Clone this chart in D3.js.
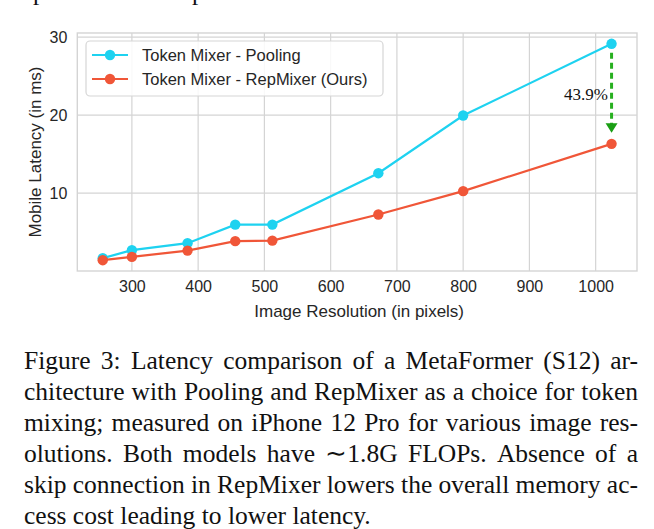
<!DOCTYPE html>
<html>
<head>
<meta charset="utf-8">
<script src="https://cdn.jsdelivr.net/npm/d3@7"></script>
<style>
  html, body { margin: 0; padding: 0; background: #fff; }
  svg { display: block; }
</style>
</head>
<body>
<svg id="chart" width="654" height="529"></svg>
<script>
// ---- data ----
const resolutions = [256, 300, 384, 456, 512, 672, 800, 1024];
const poolingLatency = [1.67, 2.69, 3.59, 5.97, 5.97, 12.56, 19.95, 29.14];
const repmixerLatency = [1.41, 1.83, 2.64, 3.85, 3.92, 7.26, 10.26, 16.32];
const seriesNames = ["Token Mixer - Pooling", "Token Mixer - RepMixer (Ours)"];
const xTicks = [300, 400, 500, 600, 700, 800, 900, 1000];
const yTicks = [10, 20, 30];
const annotationText = "43.9%";
const xLabel = "Image Resolution (in pixels)";
const yLabel = "Mobile Latency (in ms)";
const captionLines = [
  "Figure 3: Latency comparison of a MetaFormer (S12) ar-",
  "chitecture with Pooling and RepMixer as a choice for token",
  "mixing; measured on iPhone 12 Pro for various image res-",
  "olutions. Both models have \u223C1.8G FLOPs. Absence of a",
  "skip connection in RepMixer lowers the overall memory ac-",
  "cess cost leading to lower latency."
];

const colors = ["#1ed2f0", "#f05638"];
const textColor = "#262626";
const gridColor = "#d4d4d4";
const sans = "'Liberation Sans', Arial, sans-serif";
const serif = "'Liberation Serif', 'Times New Roman', serif";

const svg = d3.select("#chart");
svg.append("rect").attr("width", 654).attr("height", 529).attr("fill", "#fff");

// partial glyphs of the preceding line (cut off at top in the reference too)
svg.append("text").attr("x", 33).attr("y", 0).attr("font-family", serif)
  .attr("font-size", 25).attr("fill", "#111").text("p");
svg.append("text").attr("x", 192).attr("y", 0).attr("font-family", serif)
  .attr("font-size", 25).attr("fill", "#111").text("p");

const plot = { left: 77.3, right: 637, top: 33, bottom: 271 };
const xMin = d3.min(resolutions), xMax = d3.max(resolutions);
const xm = (xMax - xMin) * 0.05;
const allY = poolingLatency.concat(repmixerLatency);
const yMin = d3.min(allY), yMax = d3.max(allY);
const ym = (yMax - yMin) * 0.05;

const x = d3.scaleLinear().domain([xMin - xm, xMax + xm]).range([plot.left, plot.right]);
const y = d3.scaleLinear().domain([yMin - ym, yMax + ym]).range([plot.bottom, plot.top]);

// grid
const g = svg.append("g");
g.selectAll(".vg").data(xTicks).join("line")
  .attr("x1", d => x(d)).attr("x2", d => x(d))
  .attr("y1", plot.top).attr("y2", plot.bottom)
  .attr("stroke", gridColor).attr("stroke-width", 1.2);
g.selectAll(".hg").data(yTicks).join("line")
  .attr("x1", plot.left).attr("x2", plot.right)
  .attr("y1", d => y(d)).attr("y2", d => y(d))
  .attr("stroke", gridColor).attr("stroke-width", 1.2);

// frame
g.append("rect").attr("x", plot.left).attr("y", plot.top)
  .attr("width", plot.right - plot.left).attr("height", plot.bottom - plot.top)
  .attr("fill", "none").attr("stroke", gridColor).attr("stroke-width", 1.4);

// axes (tick labels via d3 axes, domain/ticks hidden)
const xAxis = svg.append("g").attr("transform", `translate(0,${plot.bottom})`)
  .call(d3.axisBottom(x).tickValues(xTicks).tickFormat(d3.format("d")).tickSize(0).tickPadding(10));
const yAxis = svg.append("g").attr("transform", `translate(${plot.left},0)`)
  .call(d3.axisLeft(y).tickValues(yTicks).tickFormat(d3.format("d")).tickSize(0).tickPadding(10));
[xAxis, yAxis].forEach(a => {
  a.select(".domain").remove();
  a.selectAll("text").attr("font-family", sans).attr("font-size", 16).attr("fill", textColor);
});

// axis labels
svg.append("text").attr("x", (plot.left + plot.right) / 2 + 2).attr("y", 317)
  .attr("text-anchor", "middle").attr("font-family", sans).attr("font-size", 17)
  .attr("fill", textColor).text(xLabel);
svg.append("text").attr("transform", `translate(41,${(plot.top + plot.bottom) / 2}) rotate(-90)`)
  .attr("text-anchor", "middle").attr("font-family", sans).attr("font-size", 17)
  .attr("fill", textColor).text(yLabel);

// series
const series = [poolingLatency, repmixerLatency];
const line = d3.line().x(d => x(d[0])).y(d => y(d[1]));
series.forEach((vals, i) => {
  const pts = resolutions.map((r, j) => [r, vals[j]]);
  svg.append("path").datum(pts).attr("d", line)
    .attr("fill", "none").attr("stroke", colors[i]).attr("stroke-width", 2.2);
  svg.selectAll(null).data(pts).join("circle")
    .attr("cx", d => x(d[0])).attr("cy", d => y(d[1])).attr("r", 5.2)
    .attr("fill", colors[i]);
});

// annotation arrow
const ax = x(resolutions[resolutions.length - 1]);
const yTop = y(poolingLatency[poolingLatency.length - 1]) + 9;
const yTip = y(repmixerLatency[repmixerLatency.length - 1]) - 11;
const headH = 9.5, headW = 6;
svg.append("line").attr("x1", ax).attr("x2", ax).attr("y1", yTop).attr("y2", yTip - headH + 1)
  .attr("stroke", "#27b01f").attr("stroke-width", 3).attr("stroke-dasharray", "6,4");
svg.append("path")
  .attr("d", `M${ax - headW},${yTip - headH} L${ax + headW},${yTip - headH} L${ax},${yTip} Z`)
  .attr("fill", "#1a9e14");
svg.append("text").attr("x", 608).attr("y", 100).attr("text-anchor", "end")
  .attr("font-family", serif).attr("font-size", 17).attr("fill", "#111").text(annotationText);

// legend
const lg = svg.append("g");
lg.append("rect").attr("x", 86).attr("y", 41).attr("width", 297).attr("height", 55)
  .attr("rx", 4).attr("fill", "#fff").attr("fill-opacity", 0.85)
  .attr("stroke", "#d6d6d6").attr("stroke-width", 1.2);
seriesNames.forEach((name, i) => {
  const ly = 55 + i * 24;
  lg.append("line").attr("x1", 92).attr("x2", 128).attr("y1", ly).attr("y2", ly)
    .attr("stroke", colors[i]).attr("stroke-width", 2.2);
  lg.append("circle").attr("cx", 110).attr("cy", ly).attr("r", 5.2).attr("fill", colors[i]);
  lg.append("text").attr("x", 142).attr("y", ly + 6).attr("font-family", sans)
    .attr("font-size", 16.5).attr("fill", textColor).text(name);
});

// caption (justified)
const capLeft = 24, capRight = 638, capSize = 25.5;
captionLines.forEach((ln, i) => {
  const by = 369 + i * 31;
  const words = ln.split(" ");
  const tg = svg.append("g");
  const nodes = words.map(w => tg.append("text").attr("y", by).attr("font-family", serif)
    .attr("font-size", capSize).attr("fill", "#111").text(w));
  const widths = nodes.map(n => n.node().getComputedTextLength());
  const total = d3.sum(widths);
  const last = i === captionLines.length - 1;
  const gap = last ? capSize * 0.25 : (capRight - capLeft - total) / (words.length - 1);
  let cx = capLeft;
  nodes.forEach((n, k) => { n.attr("x", cx); cx += widths[k] + gap; });
});
</script>
</body>
</html>
